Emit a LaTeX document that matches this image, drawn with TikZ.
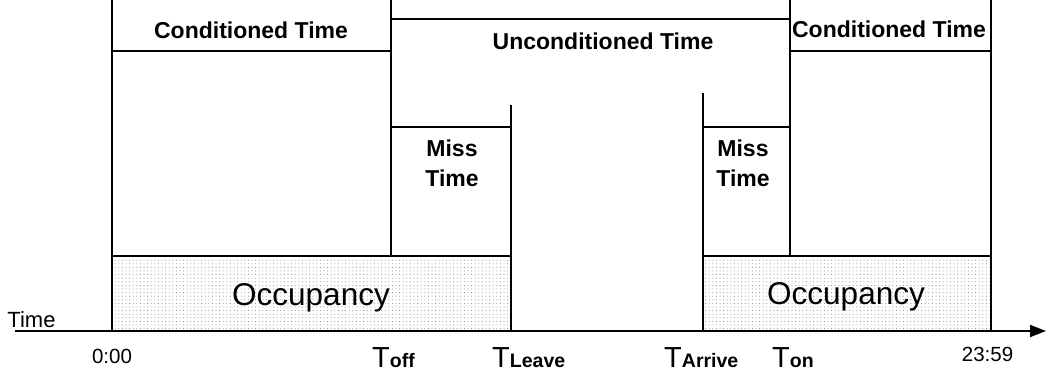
\documentclass[tikz,border=0pt]{standalone}
\usepackage{fontspec}
\setmainfont{Liberation Sans}
\usetikzlibrary{arrows.meta,patterns.meta}
\begin{document}
\begin{tikzpicture}[x=1pt,y=-1pt,
  ln/.style={line width=1.8pt,line cap=rect},
  occ/.style={pattern={Dots[distance=3.6pt,radius=0.5pt]},pattern color=black!50},
  title/.style={font=\fontsize{23}{27}\selectfont\bfseries,anchor=base,inner sep=0pt},
  occtext/.style={font=\fontsize{31.5}{36}\selectfont,anchor=base,inner sep=0pt},
  small/.style={font=\fontsize{20.5}{24}\selectfont,anchor=base,inner sep=0pt},
  tlab/.style={anchor=base west,inner sep=0pt,font=\fontsize{29}{32}\selectfont}]
\newcommand{\subf}[1]{{\fontsize{19.5}{22}\selectfont\bfseries #1}}
\useasboundingbox (0,0) rectangle (1047,379);
% occupancy bands
\fill[occ] (112,256) rectangle (511,331);
\fill[occ] (703,256) rectangle (991,331);
% vertical lines
\draw[ln] (112,0) -- (112,331);
\draw[ln] (391,0) -- (391,256);
\draw[ln] (511,106) -- (511,331);
\draw[ln] (703,94) -- (703,331);
\draw[ln] (790,0) -- (790,256);
\draw[ln] (991,0) -- (991,331);
% horizontal lines
\draw[ln] (112,51) -- (391,51);
\draw[line width=1.5pt] (391,19) -- (790,19);
\draw[ln] (790,51) -- (991,51);
\draw[ln] (391,127) -- (511,127);
\draw[ln] (703,127) -- (790,127);
\draw[ln] (112,256) -- (511,256);
\draw[ln] (703,256) -- (991,256);
% axis
\coordinate (a0) at (15,331);
\coordinate (a1) at (1046,331);
\draw[line width=1.8pt,-{Triangle[length=16pt,width=12pt]}] (a0) -- (a1);
% texts
\node[title] (c1) at (251,39) {Conditioned Time};
\node[title] (c2) at (889,38) {Conditioned Time};
\node[title] (u) at (603,50) {Unconditioned Time};
\node[title] (m1a) at (452,157) {Miss};
\node[title] (m1b) at (452,187) {Time};
\node[title] (m2a) at (743,157) {Miss};
\node[title] (m2b) at (743,187) {Time};
\node[occtext] (o1) at (311,306) {Occupancy};
\node[occtext] (o2) at (846,305) {Occupancy};
\node[small,font=\fontsize{22}{26}\selectfont] (tm) at (31.5,327) {Time};
\node[small] (z0) at (112,363) {0:00};
\node[small] (z1) at (987.5,361) {23:59};
\node[tlab] (toff) at (372,367) {T\subf{off}};
\node[tlab] (tleave) at (492,367) {T\subf{Leave}};
\node[tlab] (tarr) at (664,367) {T\subf{Arrive}};
\node[tlab] (ton) at (772,367) {T\subf{on}};
\end{tikzpicture}
\end{document}
